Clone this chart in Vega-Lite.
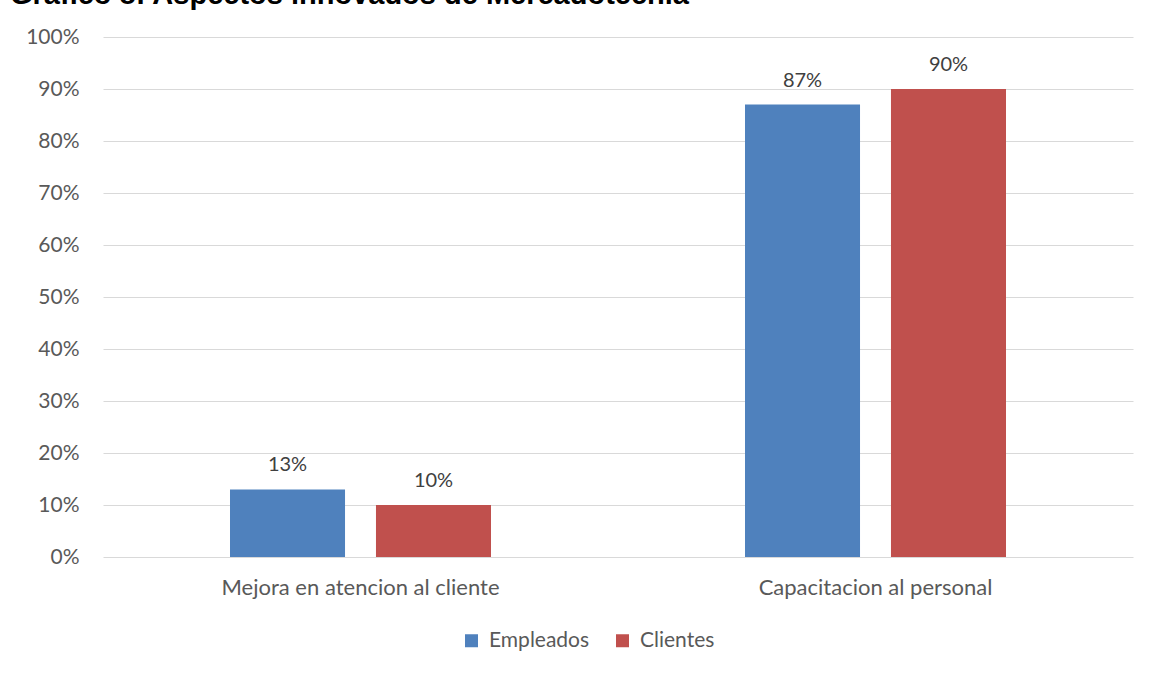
{
  "$schema": "https://vega.github.io/schema/vega-lite/v6.json",
  "width": 1030,
  "height": 520,
  "autosize": "none",
  "padding": {"left": 103, "top": 37, "right": 18, "bottom": 118},
  "background": "white",
  "title": {
    "text": "Grafico 8: Aspectos innovados de Mercadotecnia",
    "anchor": "start",
    "frame": "group",
    "orient": "top",
    "baseline": "alphabetic",
    "offset": 10,
    "dx": -93,
    "dy": 17,
    "font": "Liberation Sans",
    "fontSize": 29,
    "fontWeight": "bold",
    "color": "black"
  },
  "data": {
    "values": [
      {"categoria": "Mejora en atencion al cliente", "grupo": "Empleados", "valor": 0.13},
      {"categoria": "Mejora en atencion al cliente", "grupo": "Clientes", "valor": 0.10},
      {"categoria": "Capacitacion al personal", "grupo": "Empleados", "valor": 0.87},
      {"categoria": "Capacitacion al personal", "grupo": "Clientes", "valor": 0.90}
    ]
  },
  "encoding": {
    "x": {
      "field": "categoria",
      "type": "nominal",
      "sort": ["Mejora en atencion al cliente", "Capacitacion al personal"],
      "scale": {"paddingInner": 0, "paddingOuter": 0},
      "axis": {
        "title": null,
        "labelAngle": 0,
        "ticks": false,
        "domain": false,
        "labelPadding": 20,
        "labelLimit": 0,
        "labelFont": "Lato",
        "labelFontSize": 22,
        "labelColor": "#595959"
      }
    },
    "xOffset": {
      "field": "grupo",
      "type": "nominal",
      "sort": ["Empleados", "Clientes"],
      "scale": {"paddingInner": 0.212, "paddingOuter": 0.87}
    },
    "y": {
      "field": "valor",
      "type": "quantitative",
      "scale": {"domain": [0, 1]},
      "axis": {
        "title": null,
        "format": ".0%",
        "values": [0, 0.1, 0.2, 0.3, 0.4, 0.5, 0.6, 0.7, 0.8, 0.9, 1.0],
        "ticks": false,
        "domain": false,
        "labelPadding": 24,
        "labelFont": "Lato",
        "labelFontSize": 21,
        "labelColor": "#595959",
        "gridColor": "#D9D9D9",
        "gridWidth": 1
      }
    }
  },
  "layer": [
    {
      "mark": {"type": "bar"},
      "encoding": {
        "color": {
          "field": "grupo",
          "type": "nominal",
          "sort": ["Empleados", "Clientes"],
          "scale": {"domain": ["Empleados", "Clientes"], "range": ["#4F81BD", "#C0504D"]},
          "legend": {
            "title": null,
            "orient": "none",
            "direction": "horizontal",
            "legendX": 358,
            "legendY": 593,
            "symbolType": "square",
            "symbolSize": 169,
            "symbolStrokeWidth": 0,
            "labelFont": "Lato",
            "labelFontSize": 21,
            "labelColor": "#595959",
            "labelOffset": 7,
            "columnPadding": 22
          }
        }
      }
    },
    {
      "mark": {"type": "text", "baseline": "bottom", "dy": -14, "font": "Lato", "fontSize": 20, "color": "#404040"},
      "encoding": {
        "text": {"field": "valor", "type": "quantitative", "format": ".0%"}
      }
    }
  ],
  "config": {"view": {"stroke": null}}
}
